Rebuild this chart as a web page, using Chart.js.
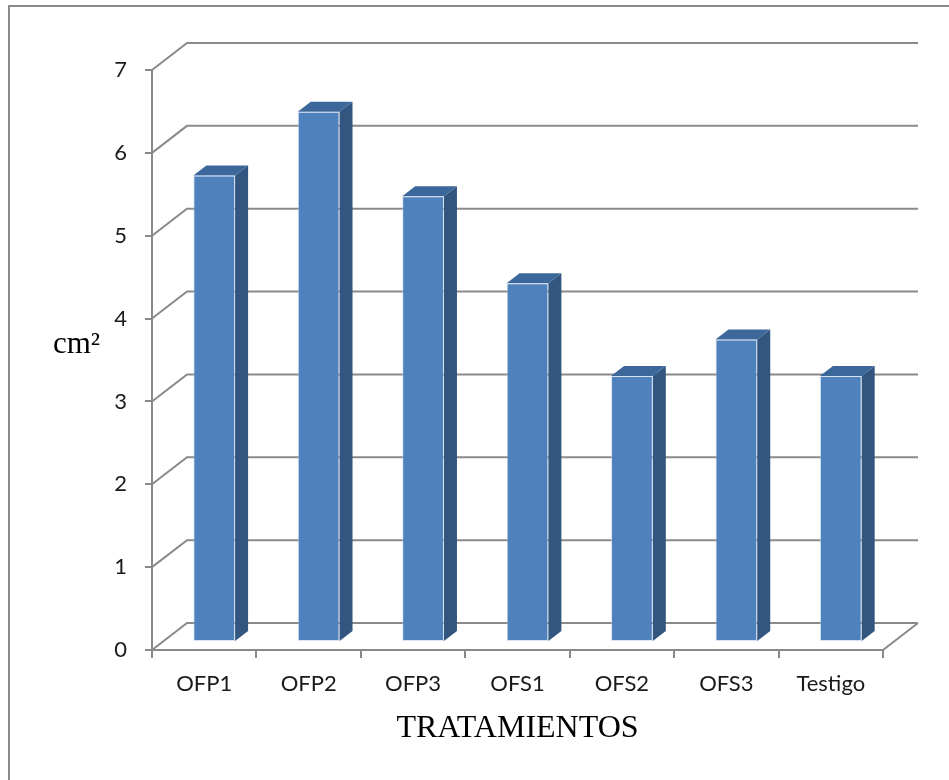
<!DOCTYPE html>
<html>
<head>
<meta charset="utf-8">
<script src="https://cdn.jsdelivr.net/npm/chart.js@4.4.1/dist/chart.umd.min.js"></script>
<style>
  body { margin: 0; background: #fff; }
  canvas { display: block; }
</style>
</head>
<body>
<canvas id="areaChart" width="949" height="780"></canvas>
<script>
// leaf area per treatment (cm2)
const categories = ["OFP1", "OFP2", "OFP3", "OFS1", "OFS2", "OFS3", "Testigo"];
const areaValues = [5.63, 6.4, 5.38, 4.33, 3.21, 3.65, 3.21];
const yMin = 0;
const yMax = 7;
const yStep = 1;

const GRAY = "#8a8a8a";
const FRONT = "#4F81BD";
const TOP = "#3C679A";
const SIDE = "#32567F";

// oblique "3D" look: back wall offset, bar plane offset and bar depth
const WALL = { dx: 35, dy: -27 };
const PLANE = { dx: 10, dy: -8 };
const DEPTH = { dx: 13, dy: -10 };

function line(ctx, pts) {
  ctx.beginPath();
  ctx.moveTo(pts[0][0], pts[0][1]);
  for (let i = 1; i < pts.length; i++) ctx.lineTo(pts[i][0], pts[i][1]);
  ctx.stroke();
}

function poly(ctx, pts, color) {
  ctx.beginPath();
  ctx.moveTo(pts[0][0], pts[0][1]);
  for (let i = 1; i < pts.length; i++) ctx.lineTo(pts[i][0], pts[i][1]);
  ctx.closePath();
  ctx.fillStyle = color;
  ctx.fill();
}

const box3d = {
  id: "box3d",
  beforeDraw(chart) {
    const ctx = chart.ctx;
    ctx.save();
    ctx.fillStyle = "#fff";
    ctx.fillRect(0, 0, chart.width, chart.height);
    ctx.strokeStyle = GRAY;
    ctx.lineWidth = 2;
    ctx.strokeRect(9, 6, chart.width + 20, chart.height + 20);
    ctx.restore();
  },
  beforeDatasetsDraw(chart) {
    const ctx = chart.ctx;
    const { left, right, bottom } = chart.chartArea;
    const y = chart.scales.y;

    // back wall grid + floor
    ctx.save();
    ctx.strokeStyle = GRAY;
    ctx.lineWidth = 2;
    y.ticks.forEach(t => {
      const py = y.getPixelForValue(t.value);
      line(ctx, [[left, py], [left + WALL.dx, py + WALL.dy], [right + WALL.dx, py + WALL.dy]]);
    });
    line(ctx, [[right, bottom], [right + WALL.dx, bottom + WALL.dy]]);
    ctx.restore();

    // top and side faces of each bar, then shift the plane for the front faces
    ctx.save();
    ctx.translate(PLANE.dx, PLANE.dy);
    chart.getDatasetMeta(0).data.forEach(bar => {
      const l = bar.x - bar.width / 2;
      const r = bar.x + bar.width / 2;
      const t = bar.y;
      const b = bar.base;
      poly(ctx, [[r, t], [r + DEPTH.dx, t + DEPTH.dy], [r + DEPTH.dx, b + DEPTH.dy], [r, b]], SIDE);
      poly(ctx, [[l, t], [l + DEPTH.dx, t + DEPTH.dy], [r + DEPTH.dx, t + DEPTH.dy], [r, t]], TOP);
    });
  },
  afterDatasetsDraw(chart) {
    const ctx = chart.ctx;
    ctx.restore();

    // axis titles
    const { left, right } = chart.chartArea;
    ctx.save();
    ctx.fillStyle = "#000";
    ctx.textBaseline = "alphabetic";
    ctx.font = "31px 'Liberation Serif', serif";
    ctx.textAlign = "left";
    ctx.fillText("cm²", 53, 353);
    ctx.font = "32px 'Liberation Serif', serif";
    ctx.textAlign = "center";
    ctx.fillText("TRATAMIENTOS", (left + right) / 2, 737);
    ctx.restore();
  }
};

new Chart(document.getElementById("areaChart"), {
  type: "bar",
  data: {
    labels: categories,
    datasets: [{
      data: areaValues,
      backgroundColor: FRONT,
      borderColor: "rgba(190, 210, 235, 0.6)",
      borderWidth: 1,
      borderSkipped: false,
      barPercentage: 0.4,
      categoryPercentage: 1.0
    }]
  },
  options: {
    responsive: false,
    devicePixelRatio: 1,
    animation: false,
    layout: { padding: { top: 70, right: 66, left: 0, bottom: 0 } },
    plugins: {
      legend: { display: false },
      tooltip: { enabled: false }
    },
    scales: {
      x: {
        afterFit(scale) { scale.height = 130; },
        grid: { drawOnChartArea: false, color: GRAY, lineWidth: 2, tickLength: 8 },
        border: { color: GRAY, width: 2 },
        ticks: { color: "#1a1a1a", font: { family: "Lato", size: 22 }, padding: 13, maxRotation: 0 }
      },
      y: {
        min: yMin,
        max: yMax,
        afterFit(scale) { scale.width = 152; },
        grid: { drawOnChartArea: false, color: GRAY, lineWidth: 2, tickLength: 7 },
        border: { color: GRAY, width: 2 },
        ticks: { stepSize: yStep, color: "#1a1a1a", font: { family: "Lato", size: 22 }, padding: 18 }
      }
    }
  },
  plugins: [box3d]
});
</script>
</body>
</html>
